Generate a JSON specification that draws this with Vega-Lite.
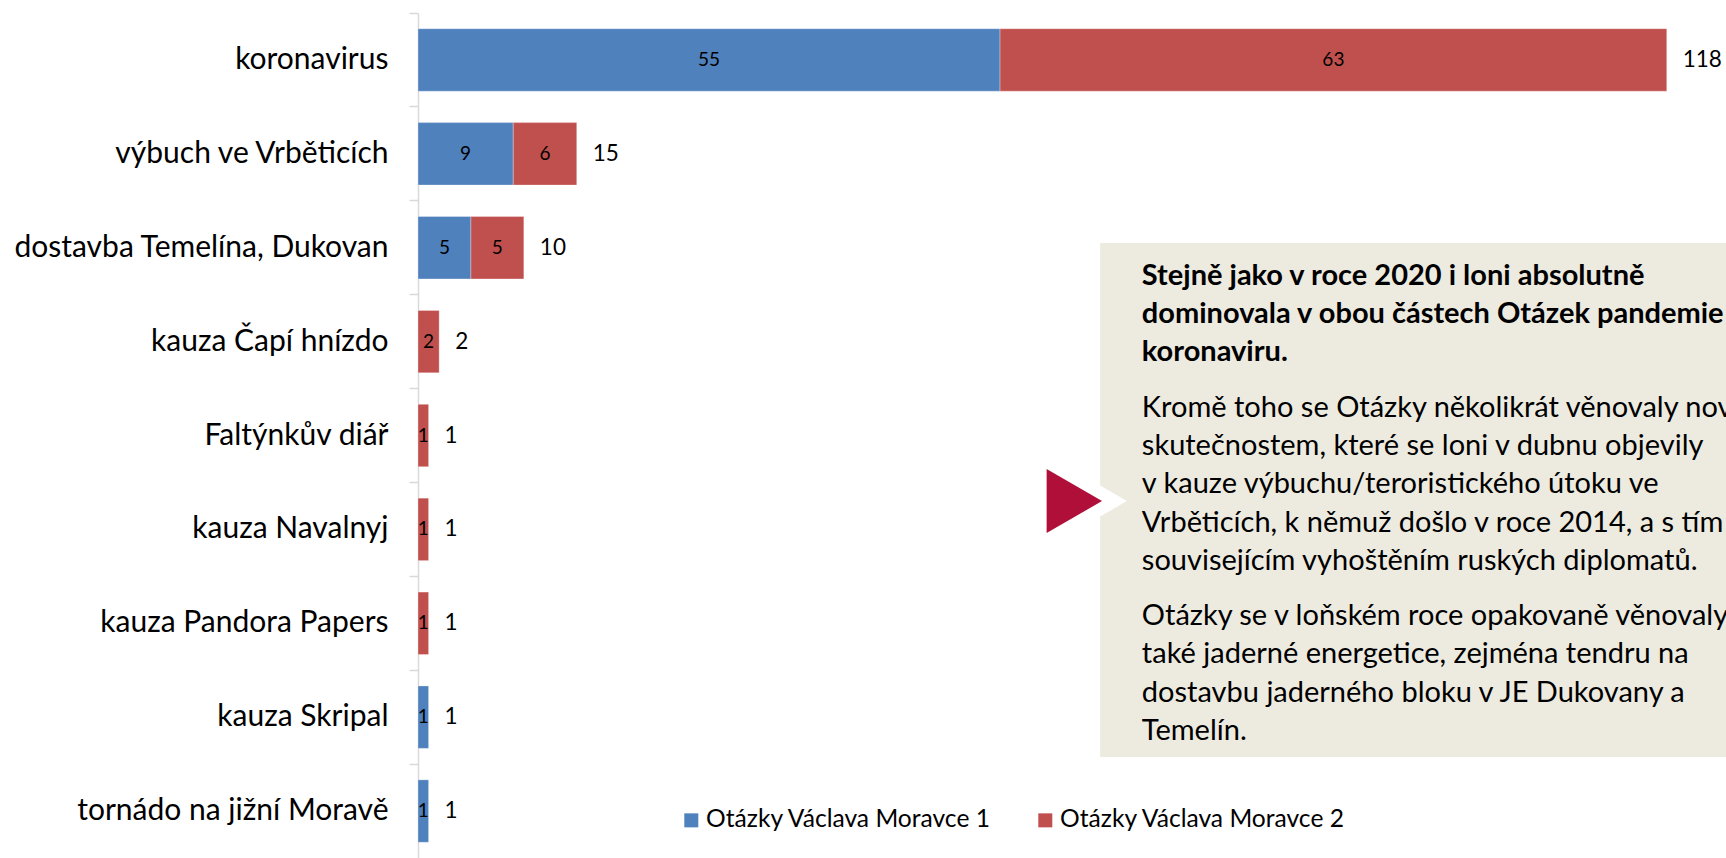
{
  "$schema": "https://vega.github.io/schema/vega-lite/v6.json",
  "width": 1308,
  "height": 845,
  "autosize": {"type": "none"},
  "padding": {"left": 418, "top": 13, "right": 0, "bottom": 0},
  "background": "white",
  "config": {"view": {"stroke": null}, "font": "Lato"},
  "datasets": {
    "bars": [
      {"topic": "koronavirus", "series": "Otázky Václava Moravce 1", "value": 55},
      {"topic": "koronavirus", "series": "Otázky Václava Moravce 2", "value": 63},
      {"topic": "výbuch ve Vrběticích", "series": "Otázky Václava Moravce 1", "value": 9},
      {"topic": "výbuch ve Vrběticích", "series": "Otázky Václava Moravce 2", "value": 6},
      {"topic": "dostavba Temelína, Dukovan", "series": "Otázky Václava Moravce 1", "value": 5},
      {"topic": "dostavba Temelína, Dukovan", "series": "Otázky Václava Moravce 2", "value": 5},
      {"topic": "kauza Čapí hnízdo", "series": "Otázky Václava Moravce 2", "value": 2},
      {"topic": "Faltýnkův diář", "series": "Otázky Václava Moravce 2", "value": 1},
      {"topic": "kauza Navalnyj", "series": "Otázky Václava Moravce 2", "value": 1},
      {"topic": "kauza Pandora Papers", "series": "Otázky Václava Moravce 2", "value": 1},
      {"topic": "kauza Skripal", "series": "Otázky Václava Moravce 1", "value": 1},
      {"topic": "tornádo na jižní Moravě", "series": "Otázky Václava Moravce 1", "value": 1}
    ]
  },
  "layer": [
    {
      "data": {"name": "bars"},
      "encoding": {
        "y": {
          "field": "topic",
          "type": "nominal",
          "scale": {
            "domain": ["koronavirus", "výbuch ve Vrběticích", "dostavba Temelína, Dukovan", "kauza Čapí hnízdo", "Faltýnkův diář", "kauza Navalnyj", "kauza Pandora Papers", "kauza Skripal", "tornádo na jižní Moravě"],
            "paddingInner": 0,
            "paddingOuter": 0
          },
          "axis": {
            "title": null,
            "bandPosition": 0,
            "domainColor": "#D9D9D9",
            "domainWidth": 1.5,
            "tickColor": "#D9D9D9",
            "tickWidth": 1.5,
            "tickSize": 9,
            "labelPadding": 21,
            "labelFont": "Lato",
            "labelFontSize": 30,
            "labelColor": "#000000",
            "labelLimit": 600
          }
        }
      },
      "layer": [
        {
          "mark": {"type": "bar", "height": {"band": 0.665}, "stroke": "#FFFFFF", "strokeOpacity": 0.3, "strokeWidth": 1},
          "encoding": {
            "x": {"field": "value", "type": "quantitative", "stack": "zero", "scale": {"domain": [0, 123.6], "nice": false}, "axis": null},
            "order": {"field": "series", "sort": "ascending"},
            "color": {
              "field": "series",
              "type": "nominal",
              "scale": {"domain": ["Otázky Václava Moravce 1", "Otázky Václava Moravce 2"], "range": ["#4F81BD", "#C0504D"]},
              "legend": {
                "title": null,
                "orient": "none",
                "legendX": 261,
                "legendY": 795,
                "direction": "horizontal",
                "symbolType": "square",
                "symbolSize": 196,
                "symbolStrokeWidth": 0,
                "labelFont": "Lato",
                "labelFontSize": 24.6,
                "labelColor": "#000000",
                "labelOffset": 2.5,
                "columnPadding": 41,
                "labelLimit": 500
              }
            }
          }
        },
        {
          "mark": {"type": "text", "font": "Lato", "fontSize": 19, "color": "#000000"},
          "encoding": {
            "x": {"field": "value", "type": "quantitative", "stack": "zero", "bandPosition": 0.5, "scale": {"domain": [0, 123.6], "nice": false}},
            "detail": {"field": "series"},
            "order": {"field": "series", "sort": "ascending"},
            "text": {"field": "value", "type": "quantitative"}
          }
        },
        {
          "mark": {"type": "text", "font": "Lato", "fontSize": 22.5, "color": "#000000", "align": "left", "dx": 16},
          "encoding": {
            "x": {"aggregate": "sum", "field": "value", "type": "quantitative", "scale": {"domain": [0, 123.6], "nice": false}},
            "text": {"aggregate": "sum", "field": "value", "type": "quantitative"}
          }
        }
      ]
    },
    {
      "data": {"values": [{}]},
      "layer": [
        {
          "mark": {"type": "rect", "color": "#EDEBE0"},
          "encoding": {
            "x": {"datum": 64.46, "type": "quantitative", "scale": {"domain": [0, 123.6], "nice": false}},
            "x2": {"datum": 124},
            "y": {"datum": 2.45, "type": "quantitative", "scale": {"domain": [0, 9], "nice": false, "zero": false, "reverse": true}, "axis": null},
            "y2": {"datum": 7.924}
          }
        },
        {
          "mark": {"type": "point", "shape": "triangle-right", "filled": true, "color": "#FFFFFF", "opacity": 1, "size": 8100, "strokeWidth": 0},
          "encoding": {
            "x": {"datum": 63.31, "type": "quantitative"},
            "y": {"datum": 5.198, "type": "quantitative"}
          }
        },
        {
          "mark": {"type": "point", "shape": "triangle-right", "filled": true, "color": "#AF0F38", "opacity": 1, "size": 4096, "strokeWidth": 0},
          "encoding": {
            "x": {"datum": 62.02, "type": "quantitative"},
            "y": {"datum": 5.198, "type": "quantitative"}
          }
        },
        {
          "mark": {"type": "text", "font": "Lato", "fontSize": 29, "fontWeight": "bold", "color": "#000000", "align": "left", "baseline": "alphabetic", "lineHeight": 38.3,
            "text": ["Stejně jako v roce 2020 i loni absolutně", "dominovala v obou částech Otázek pandemie", "koronaviru."]},
          "encoding": {
            "x": {"datum": 68.4, "type": "quantitative"},
            "y": {"datum": 2.892, "type": "quantitative"}
          }
        },
        {
          "mark": {"type": "text", "font": "Lato", "fontSize": 29, "color": "#000000", "align": "left", "baseline": "alphabetic", "lineHeight": 38.3,
            "text": ["Kromě toho se Otázky několikrát věnovaly novým", "skutečnostem, které se loni v dubnu objevily", "v kauze výbuchu/teroristického útoku ve", "Vrběticích, k němuž došlo v roce 2014, a s tím", "souvisejícím vyhoštěním ruských diplomatů."]},
          "encoding": {
            "x": {"datum": 68.4, "type": "quantitative"},
            "y": {"datum": 4.3, "type": "quantitative"}
          }
        },
        {
          "mark": {"type": "text", "font": "Lato", "fontSize": 29, "color": "#000000", "align": "left", "baseline": "alphabetic", "lineHeight": 38.3,
            "text": ["Otázky se v loňském roce opakovaně věnovaly", "také jaderné energetice, zejména tendru na", "dostavbu jaderného bloku v JE Dukovany a", "Temelín."]},
          "encoding": {
            "x": {"datum": 68.4, "type": "quantitative"},
            "y": {"datum": 6.518, "type": "quantitative"}
          }
        }
      ]
    }
  ],
  "resolve": {"scale": {"y": "independent"}}
}
